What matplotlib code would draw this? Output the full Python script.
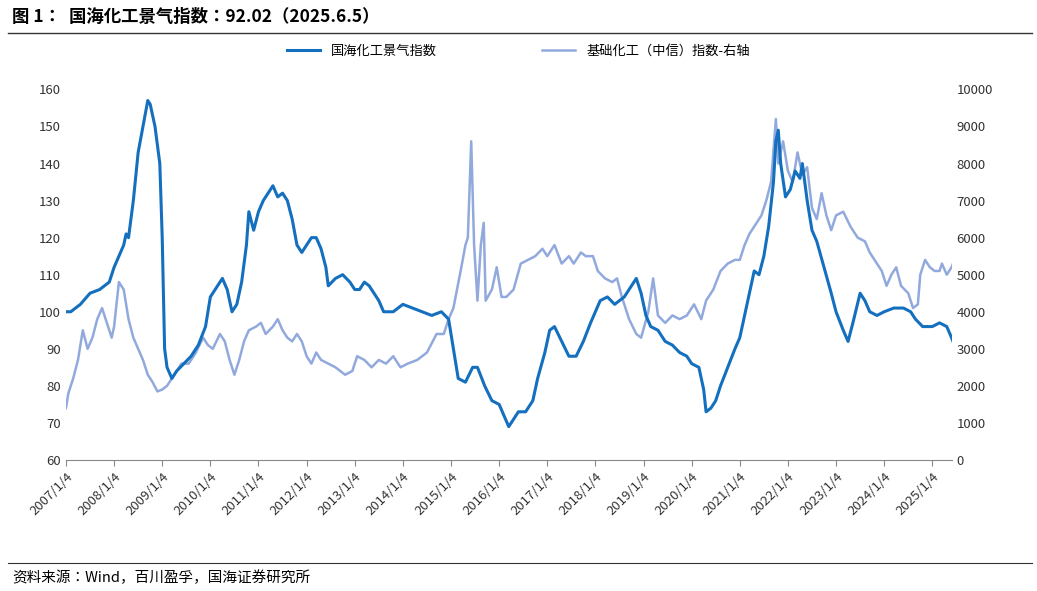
import matplotlib
matplotlib.use("Agg")
import matplotlib.pyplot as plt
from matplotlib import font_manager

cjk = [f.name for f in font_manager.fontManager.ttflist if "CJK" in f.name]
pref = [n for n in ["Noto Sans CJK SC", "Noto Sans CJK JP", "Noto Sans CJK TC", "Noto Sans CJK KR"] if n in cjk]
plt.rcParams["font.family"] = (pref or cjk[:1] or ["Noto Sans CJK SC"]) + ["DejaVu Sans"]

idx_t = [2007.0,2007.1,2007.3,2007.5,2007.7,2007.9,2008.0,2008.1,2008.2,2008.25,2008.3,2008.4,2008.5,2008.6,2008.7,2008.75,2008.85,2008.95,2009.0,2009.05,2009.1,2009.2,2009.3,2009.45,2009.6,2009.75,2009.9,2010.0,2010.15,2010.25,2010.35,2010.45,2010.55,2010.65,2010.75,2010.8,2010.9,2011.0,2011.1,2011.2,2011.3,2011.4,2011.5,2011.6,2011.7,2011.8,2011.9,2012.0,2012.1,2012.2,2012.3,2012.4,2012.45,2012.6,2012.75,2012.9,2013.0,2013.1,2013.2,2013.3,2013.5,2013.6,2013.8,2014.0,2014.2,2014.4,2014.6,2014.8,2014.95,2015.05,2015.15,2015.3,2015.45,2015.55,2015.7,2015.85,2016.0,2016.1,2016.2,2016.3,2016.4,2016.55,2016.7,2016.8,2016.95,2017.05,2017.15,2017.3,2017.45,2017.6,2017.75,2017.9,2018.0,2018.1,2018.25,2018.4,2018.5,2018.6,2018.75,2018.85,2018.95,2019.05,2019.15,2019.3,2019.45,2019.6,2019.75,2019.9,2020.0,2020.15,2020.25,2020.3,2020.4,2020.5,2020.6,2020.75,2020.9,2021.0,2021.15,2021.3,2021.4,2021.5,2021.6,2021.7,2021.75,2021.8,2021.85,2021.95,2022.05,2022.15,2022.25,2022.3,2022.4,2022.5,2022.6,2022.75,2022.9,2023.0,2023.15,2023.25,2023.35,2023.5,2023.6,2023.7,2023.85,2024.0,2024.2,2024.4,2024.55,2024.65,2024.8,2025.0,2025.15,2025.3,2025.4,2025.43]
idx_v = [100,100,102,105,106,108,112,115,118,121,120,130,143,150,157,156,150,140,120,90,85,82,84,86,88,91,96,104,107,109,106,100,102,108,118,127,122,127,130,132,134,131,132,130,125,118,116,118,120,120,117,112,107,109,110,108,106,106,108,107,103,100,100,102,101,100,99,100,98,90,82,81,85,85,80,76,75,72,69,71,73,73,76,82,89,95,96,92,88,88,92,97,100,103,104,102,103,104,107,109,105,99,96,95,92,91,89,88,86,85,79,73,74,76,80,85,90,93,102,111,110,115,123,135,146,149,140,131,133,138,136,140,130,122,119,112,105,100,95,92,97,105,103,100,99,100,101,101,100,98,96,96,97,96,93,92]

chem_t = [2007.0,2007.05,2007.15,2007.25,2007.35,2007.45,2007.55,2007.65,2007.75,2007.85,2007.95,2008.0,2008.1,2008.2,2008.3,2008.4,2008.5,2008.6,2008.7,2008.8,2008.9,2009.0,2009.1,2009.25,2009.4,2009.55,2009.7,2009.85,2009.95,2010.05,2010.2,2010.3,2010.4,2010.5,2010.6,2010.7,2010.8,2010.95,2011.05,2011.15,2011.3,2011.4,2011.5,2011.6,2011.7,2011.8,2011.9,2012.0,2012.1,2012.2,2012.3,2012.45,2012.6,2012.8,2012.95,2013.05,2013.2,2013.35,2013.5,2013.65,2013.8,2013.95,2014.1,2014.3,2014.5,2014.7,2014.85,2014.95,2015.05,2015.2,2015.3,2015.35,2015.42,2015.48,2015.55,2015.62,2015.68,2015.72,2015.85,2015.95,2016.05,2016.15,2016.3,2016.45,2016.6,2016.75,2016.9,2017.0,2017.15,2017.3,2017.45,2017.55,2017.7,2017.8,2017.95,2018.05,2018.2,2018.35,2018.45,2018.55,2018.7,2018.85,2018.95,2019.1,2019.2,2019.3,2019.45,2019.6,2019.75,2019.9,2020.05,2020.2,2020.3,2020.45,2020.6,2020.75,2020.9,2021.0,2021.1,2021.2,2021.3,2021.45,2021.55,2021.65,2021.75,2021.8,2021.9,2022.0,2022.1,2022.2,2022.3,2022.4,2022.5,2022.6,2022.7,2022.8,2022.9,2023.0,2023.15,2023.3,2023.45,2023.6,2023.7,2023.85,2023.95,2024.05,2024.15,2024.25,2024.35,2024.5,2024.6,2024.7,2024.75,2024.85,2024.95,2025.05,2025.15,2025.2,2025.3,2025.4,2025.43]
chem_v = [1400,1800,2200,2700,3500,3000,3300,3800,4100,3700,3300,3600,4800,4600,3800,3300,3000,2700,2300,2100,1850,1900,2000,2300,2600,2600,2900,3300,3100,3000,3400,3200,2700,2300,2700,3200,3500,3600,3700,3400,3600,3800,3500,3300,3200,3400,3200,2800,2600,2900,2700,2600,2500,2300,2400,2800,2700,2500,2700,2600,2800,2500,2600,2700,2900,3400,3400,3800,4100,5100,5800,6000,8600,5800,4300,5800,6400,4300,4600,5200,4400,4400,4600,5300,5400,5500,5700,5500,5800,5300,5500,5300,5600,5500,5500,5100,4900,4800,4900,4400,3800,3400,3300,4000,4900,3900,3700,3900,3800,3900,4200,3800,4300,4600,5100,5300,5400,5400,5800,6100,6300,6600,7000,7500,9200,8000,8600,7800,7500,8300,7700,7900,6800,6500,7200,6600,6200,6600,6700,6300,6000,5900,5600,5300,5100,4700,5000,5200,4700,4500,4100,4200,5000,5400,5200,5100,5100,5300,5000,5200,5300]

years = list(range(2007, 2026))
xtick_labels = [f"{y}/1/4" for y in years]

dark = "#1470BE"
light = "#91A9DC"

fig = plt.figure(figsize=(10.37, 5.91), dpi=100)
ax = fig.add_axes([0.0636, 0.2217, 0.854, 0.627])
ax2 = ax.twinx()
l1, = ax.plot(idx_t, idx_v, color=dark, lw=2.2, zorder=3)
l2, = ax2.plot(chem_t, chem_v, color=light, lw=1.8)
ax.set_zorder(ax2.get_zorder() + 1)
ax.patch.set_visible(False)

ax.set_xlim(2007.0, 2025.4)
ax.set_ylim(60, 160)
ax.set_yticks(range(60, 161, 10))
ax2.set_ylim(0, 10000)
ax2.set_yticks(range(0, 10001, 1000))
ax.set_xticks(years)
ax.set_xticklabels(xtick_labels, rotation=45, ha="right", rotation_mode="anchor", fontsize=9.5)
for a in (ax, ax2):
    for s in ("top", "right", "left"):
        a.spines[s].set_visible(False)
    a.tick_params(axis="y", length=0, labelsize=9.5, colors="#333333")
ax2.spines["bottom"].set_visible(False)
ax.spines["bottom"].set_color("#888888")
ax.tick_params(axis="x", length=4, color="#888888", colors="#333333")

fig.legend([l1, l2], ["国海化工景气指数", "基础化工（中信）指数-右轴"], loc="center",
           bbox_to_anchor=(0.5, 0.913), ncol=2, frameon=False, fontsize=9.5,
           handlelength=2.5, columnspacing=8)

fig.text(0.012, 0.972, "图 1：  国海化工景气指数：92.02（2025.6.5）", fontsize=12.5,
         fontweight="bold", va="center")
fig.add_artist(plt.Line2D([0.008, 0.995], [0.944, 0.944], color="#333333", lw=1))
fig.add_artist(plt.Line2D([0.008, 0.995], [0.048, 0.048], color="#333333", lw=0.8))
fig.text(0.012, 0.022, "资料来源：Wind，百川盈孚，国海证券研究所", fontsize=10.5, va="center")

fig.savefig("out.png", dpi=100)
